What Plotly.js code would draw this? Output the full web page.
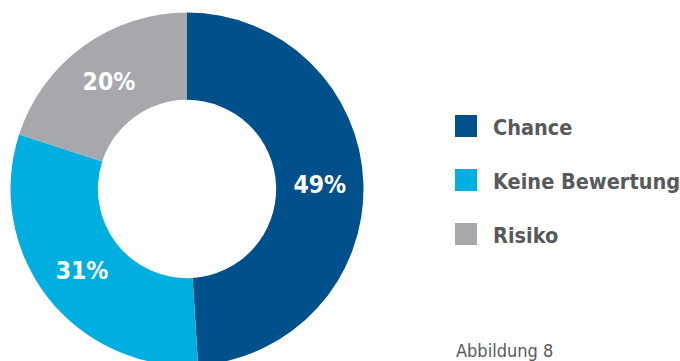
<!DOCTYPE html>
<html>
<head>
<meta charset="utf-8">
<script src="https://cdn.plot.ly/plotly-3.0.1.min.js"></script>
<style>
html,body{margin:0;padding:0;overflow:hidden;background:#fff;width:680px;height:361px;}
#chart{width:680px;height:378px;}
</style>
</head>
<body>
<div id="chart"></div>
<script>
const categories = ["Chance", "Keine Bewertung", "Risiko"];
const shares = [49, 31, 20];
const colors = ["#00508c", "#00aee0", "#a7a8ac"];
const caption = "Abbildung 8";

const W = 680, H = 378;
const FONT = "'DejaVu Sans Condensed', 'Open Sans', sans-serif";
const textGray = "#58595b";
const px = x => x / W;
const py = y => 1 - y / H;

const shapes = [];
const annotations = [];
categories.forEach((c, i) => {
  const cy = 126 + i * 54;
  shapes.push({type: "rect", xref: "paper", yref: "paper",
    x0: px(455), x1: px(477), y0: py(cy - 11), y1: py(cy + 11),
    fillcolor: colors[i], line: {width: 0}});
  annotations.push({xref: "paper", yref: "paper", x: px(491), y: py(cy + 1),
    xanchor: "left", yanchor: "middle", showarrow: false,
    text: "<b>" + c + "</b>", font: {family: FONT, size: 21.5, color: textGray}});
});
annotations.push({xref: "paper", yref: "paper", x: px(454), y: py(350),
  xanchor: "left", yanchor: "middle", showarrow: false,
  text: caption, font: {family: FONT, size: 18, color: textGray}});

const trace = {
  type: "pie",
  labels: categories,
  values: shares,
  marker: {colors: colors, line: {width: 0}},
  hole: 0.505,
  sort: false,
  direction: "clockwise",
  rotation: 0,
  textinfo: "text",
  texttemplate: "<b>%{value}%</b>",
  textposition: "inside",
  insidetextorientation: "horizontal",
  textfont: {family: FONT, size: 24.5, color: "#ffffff"},
  domain: {x: [px(10.5), px(363.5)], y: [0, 1]},
  showlegend: false,
  hoverinfo: "none"
};

Plotly.newPlot("chart", [trace], {
  width: W, height: H,
  margin: {l: 0, r: 0, t: 0, b: 0},
  paper_bgcolor: "#ffffff",
  showlegend: false,
  shapes: shapes,
  annotations: annotations
}, {staticPlot: true});
</script>
</body>
</html>
